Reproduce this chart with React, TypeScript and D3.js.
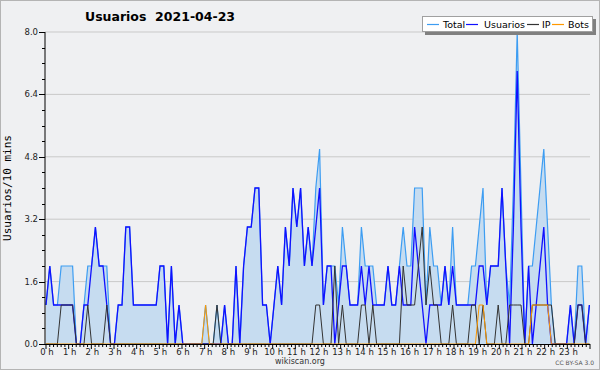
import React, { useEffect } from 'react';
import * as d3 from 'd3';

// 10-minute samples, 00:00 .. 23:50
const usuarios = [
  1,2,1,1,1,1,1,1,0,0,1,1,
  2,3,2,2,1,0,0,1,1,3,3,1,
  1,1,1,1,1,1,2,2,0,2,0,1,
  0,0,0,0,0,0,0,0,0,0,0,1,
  0,0,2,0,2,3,3,4,4,1,1,0,
  1,2,1,3,2,4,3,4,2,3,2,3,
  4,1,2,2,0,1,2,2,1,1,1,2,
  1,2,1,1,1,1,2,1,1,2,1,1,
  1,3,2,1,0,1,1,1,1,2,1,2,
  1,1,1,1,1,1,2,2,1,2,2,2,
  4,2,0,3,7,3,0,2,0,1,2,3,
  1,0,0,0,0,0,1,0,1,1,0,1,
];
const ip = [
  0,0,0,0,1,1,1,1,0,0,0,1,
  0,0,0,0,1,0,0,0,0,0,0,0,
  0,0,0,0,0,0,0,0,0,0,0,0,
  0,0,0,0,0,0,0,0,0,1,0,0,
  0,0,0,0,0,0,0,0,0,0,0,0,
  0,0,0,0,0,0,0,0,0,0,0,1,
  1,0,0,0,2,0,1,0,0,0,0,1,
  1,0,1,0,0,0,0,0,0,0,2,1,
  1,1,2,3,1,2,1,1,0,0,0,1,
  0,0,0,0,1,1,0,1,0,0,0,1,
  0,0,1,1,1,1,0,0,1,1,1,1,
  1,1,0,0,0,0,0,0,1,1,0,0,
];
const bots = [
  0,0,0,0,0,0,0,0,0,0,0,0,
  0,0,0,0,0,0,0,0,0,0,0,0,
  0,0,0,0,0,0,0,0,0,0,0,0,
  0,0,0,0,0,0,1,0,0,0,0,0,
  0,0,0,0,0,0,0,0,0,0,0,0,
  0,0,0,0,0,0,0,0,0,0,0,0,
  0,0,0,0,0,0,0,0,0,0,0,0,
  0,0,0,0,0,0,0,0,0,0,0,0,
  0,0,0,0,0,0,0,0,0,0,0,0,
  0,0,0,0,0,0,1,1,0,0,0,0,
  0,0,0,0,0,0,0,0,1,1,1,1,
  1,0,0,0,0,0,0,0,0,0,0,0,
];
const total = [
  1,2,1,1,2,2,2,2,0,0,1,2,
  2,3,2,2,2,0,0,1,1,3,3,1,
  1,1,1,1,1,1,2,2,0,2,0,1,
  0,0,0,0,0,0,1,0,0,1,0,1,
  0,0,2,0,2,3,3,4,4,1,1,0,
  1,2,1,3,2,4,3,4,2,3,2,4,
  5,1,2,2,2,1,3,2,1,1,1,3,
  2,2,2,1,1,1,2,1,1,2,3,2,
  2,4,4,4,1,3,2,2,1,2,1,3,
  1,1,1,1,2,2,3,4,1,2,2,2,
  4,2,1,4,8,4,0,2,2,3,4,5,
  3,1,0,0,0,0,1,0,2,2,0,1,
];
const hours = d3.range(24);
const hourLabels = hours.map((h) => `${h} h`);
const yTicks = [0, 1.6, 3.2, 4.8, 6.4, 8.0];
const yMinor = d3.range(0, 8.01, 0.4);
const legendItems = [
  { name: 'Total', color: '#3d9df2' },
  { name: 'Usuarios', color: '#1010ff' },
  { name: 'IP', color: '#333333' },
  { name: 'Bots', color: '#ff9900' },
];

const FONT = "'DejaVu Sans', Verdana, sans-serif";

export default function App() {
  useEffect(() => {
    document.body.style.margin = '0';
  }, []);
  const W = 600, H = 370;
  const left = 45, right = 590, top = 32, bottom = 344;
  const n = usuarios.length;
  const x = d3.scaleLinear().domain([0, n - 1]).range([46, 589.4]);
  const xh = d3.scaleLinear().domain([0, 24]).range([46, 590]);
  const y = d3.scaleLinear().domain([0, 8]).range([bottom, top]);
  const line = d3.line<number>().x((_, i) => x(i)).y((d) => y(d));
  const area = d3.area<number>().x((_, i) => x(i)).y0(y(0)).y1((d) => y(d));

  return (
    <svg width={W} height={H} style={{ position: 'absolute', left: 0, top: 0, display: 'block' }} fontFamily={FONT}>
      <rect x={0.5} y={0.5} width={W - 1} height={H - 1} fill="#eff0f2" stroke="#b4b4b4" />
      {/* grid */}
      {yTicks.map((t) => (
        <line key={'g' + t} x1={left} x2={right} y1={y(t)} y2={y(t)} stroke="#c9c9c9" strokeWidth={1} />
      ))}
      {/* series */}
      <path d={area(total) || ''} fill="#c6dcf0" />
      <path d={line(total) || ''} fill="none" stroke="#3d9df2" strokeWidth={1.2} />
      <path d={line(usuarios) || ''} fill="none" stroke="#1010ff" strokeWidth={1.3} />
      <path d={line(ip) || ''} fill="none" stroke="#333333" strokeWidth={1} />
      <path d={line(bots) || ''} fill="none" stroke="#ff9900" strokeWidth={1} />
      {/* y axis */}
      <line x1={left} x2={left} y1={top} y2={bottom} stroke="#000" />
      {yMinor.map((t, k) => (
        <line key={'ym' + k} x1={left - (k % 4 === 0 ? 6 : 3)} x2={left} y1={Math.round(y(t)) + 0.5} y2={Math.round(y(t)) + 0.5} stroke="#000" />
      ))}
      {yTicks.map((t) => (
        <text key={'yl' + t} x={38} y={y(t) + 3} fontSize={8.5} textAnchor="end" fill="#222">
          {t.toFixed(1)}
        </text>
      ))}
      {/* x axis */}
      <line x1={left} x2={right} y1={bottom + 0.5} y2={bottom + 0.5} stroke="#000" />
      {d3.range(n + 1).map((i) => (
        <line key={'xm' + i} x1={xh(i / 6)} x2={xh(i / 6)} y1={bottom} y2={bottom + (i % 6 === 0 ? 5 : 3)} stroke="#000" />
      ))}
      {hours.map((h) => (
        <text key={'xl' + h} x={xh(h) + 1} y={355} fontSize={8.5} textAnchor="middle" fill="#222">
          {hourLabels[h]}
        </text>
      ))}
      {/* title */}
      <text x={85} y={21} fontSize={12.5} fontWeight="bold" fill="#000" style={{ whiteSpace: 'pre' }}>
        {'Usuarios  2021-04-23'}
      </text>
      {/* y label */}
      <text transform={`translate(11,${(top + bottom) / 2}) rotate(-90)`} fontSize={11} textAnchor="middle" fill="#000" fontFamily="'DejaVu Sans Mono', monospace">
        Usuarios/10 mins
      </text>
      {/* legend */}
      <rect x={425} y={19} width={171} height={16} fill="#808080" />
      <rect x={422.5} y={16.5} width={170} height={15} fill="#ffffff" stroke="#a0a0a0" />
      {legendItems.map((it, k) => {
        const offs = [427, 466, 527, 552];
        const tx = [443, 484, 542, 568];
        return (
          <g key={it.name}>
            <line x1={offs[k]} x2={offs[k] + 12} y1={24.5} y2={24.5} stroke={it.color} strokeWidth={1.2} />
            <text x={tx[k]} y={28} fontSize={9.5} fill="#000">{it.name}</text>
          </g>
        );
      })}
      {/* footer */}
      <text x={300} y={364} fontSize={8} textAnchor="middle" fill="#333">wikiscan.org</text>
      <text x={594} y={365} fontSize={6} textAnchor="end" fill="#555">CC BY-SA 3.0</text>
    </svg>
  );
}
